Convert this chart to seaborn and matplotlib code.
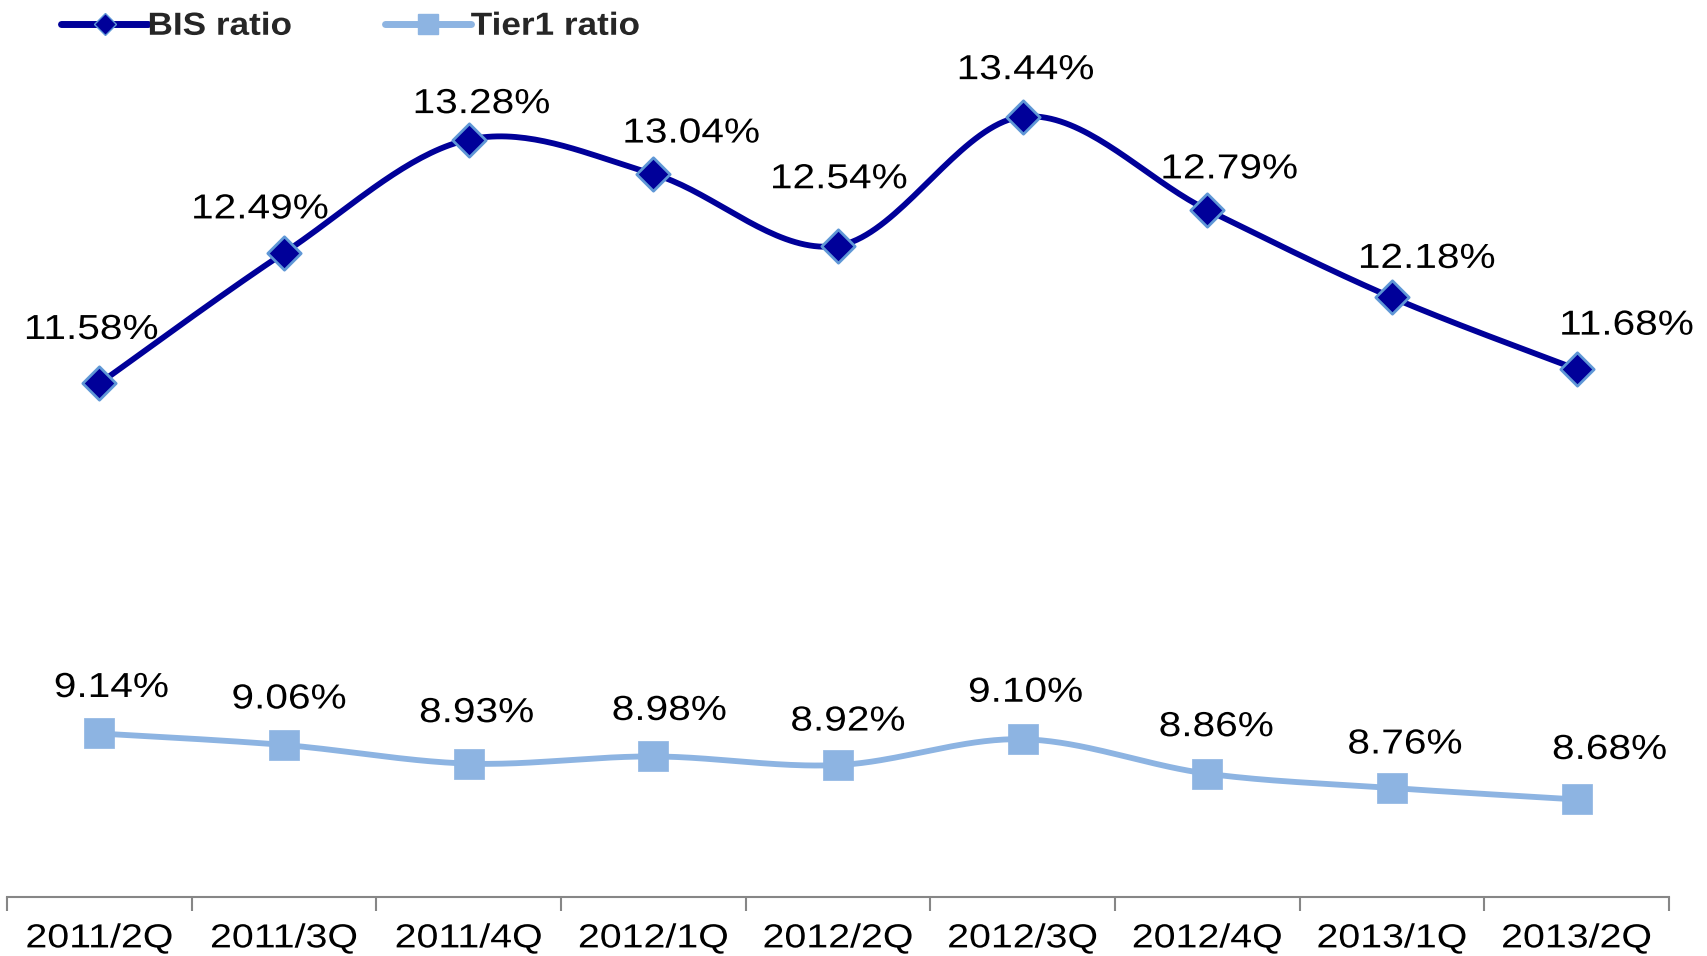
import numpy as np
import seaborn as sns
import matplotlib.pyplot as plt
from matplotlib.lines import Line2D
from matplotlib.patheffects import AbstractPathEffect
from matplotlib.transforms import Affine2D

sns.set_theme(style="white")
plt.rcParams['font.family'] = ['Liberation Sans', 'DejaVu Sans']

quarters = ["2011/2Q", "2011/3Q", "2011/4Q", "2012/1Q", "2012/2Q",
            "2012/3Q", "2012/4Q", "2013/1Q", "2013/2Q"]
bis_ratio = [11.58, 12.49, 13.28, 13.04, 12.54, 13.44, 12.79, 12.18, 11.68]
tier1_ratio = [9.14, 9.06, 8.93, 8.98, 8.92, 9.10, 8.86, 8.76, 8.68]

# label offsets in pixels (dx, dy) from each point
bis_offsets = [(-8, 54), (-24, 44), (13, 36), (38, 41), (1, 67),
               (3, 47), (22, 41), (35, 39), (50, 44)]
tier1_offsets = [(12, 46), (5, 46), (8, 51), (16, 46), (10, 44),
                 (3, 47), (9, 47), (13, 44), (33, 50)]

BIS_COLOR = "#000099"
BIS_EDGE = "#5f97d6"
TIER_COLOR = "#8db4e2"


class Stretch(AbstractPathEffect):
    """Widen glyphs horizontally (the source text is drawn a bit wide)."""

    def __init__(self, sx, anchor="center"):
        super().__init__()
        self.sx = sx
        self.anchor = anchor

    def draw_path(self, renderer, gc, tpath, affine, rgbFace=None):
        ext = tpath.get_extents()
        cx = (ext.x0 + ext.x1) / 2 if self.anchor == "center" else ext.x0
        pre = Affine2D().translate(-cx, 0).scale(self.sx, 1).translate(cx, 0)
        renderer.draw_path(gc, tpath, pre + affine, rgbFace)


def smooth(y, n=40):
    # Excel-style smoothed line (cubic Bezier, 1/6 tangents)
    pts = np.column_stack([np.arange(len(y)), y]).astype(float)
    ext = np.vstack([pts[0], pts, pts[-1]])
    t = np.linspace(0, 1, n)[:, None]
    out = []
    for i in range(len(pts) - 1):
        p0, p3 = pts[i], pts[i + 1]
        p1 = p0 + (ext[i + 2] - ext[i]) / 6
        p2 = p3 - (ext[i + 3] - ext[i + 1]) / 6
        seg = ((1 - t) ** 3) * p0 + 3 * ((1 - t) ** 2) * t * p1 \
            + 3 * (1 - t) * t ** 2 * p2 + t ** 3 * p3
        out.append(seg if i == 0 else seg[1:])
    return np.vstack(out)


fig = plt.figure(figsize=(17.08, 9.56), dpi=100)
ax = fig.add_axes([0.0041, 0.0617, 0.973, 0.9003])

x = np.arange(len(quarters))
for vals, color in [(bis_ratio, BIS_COLOR), (tier1_ratio, TIER_COLOR)]:
    c = smooth(vals)
    sns.lineplot(x=c[:, 0], y=c[:, 1], sort=False, ax=ax, color=color,
                 linewidth=4.2, zorder=2)

sns.scatterplot(x=x, y=bis_ratio, ax=ax, marker="D", s=17 ** 2,
                color=BIS_COLOR, edgecolor=BIS_EDGE, linewidth=2, zorder=3)
sns.scatterplot(x=x, y=tier1_ratio, ax=ax, marker="s", s=22 ** 2,
                color=TIER_COLOR, edgecolor=TIER_COLOR, linewidth=0.5,
                zorder=3)

for vals, offs in [(bis_ratio, bis_offsets), (tier1_ratio, tier1_offsets)]:
    for xi, v, (dx, dy) in zip(x, vals, offs):
        ax.annotate(f"{v:.2f}%", (xi, v), xytext=(dx, dy),
                    textcoords="offset pixels", ha="center", va="center",
                    fontsize=25, color="black",
                    path_effects=[Stretch(1.17)])

ax.set_xlim(-0.5, len(quarters) - 0.5)
ax.set_ylim(8, 14)
ax.set_yticks([])
ax.set_xticks(np.arange(-0.5, len(quarters)), labels=[])
ax.set_xticks(x, labels=quarters, minor=True)
ax.tick_params(axis="x", which="major", length=10, width=1.5,
               color="#868686", direction="out", bottom=True)
ax.tick_params(axis="x", which="minor", length=0, pad=19, labelsize=24,
               labelcolor="black")
plt.setp(ax.get_xticklabels(minor=True), path_effects=[Stretch(1.18)])
for side in ["left", "right", "top"]:
    ax.spines[side].set_visible(False)
ax.spines["bottom"].set_color("#868686")
ax.spines["bottom"].set_linewidth(1.5)
ax.set_xlabel("")
ax.set_ylabel("")

handles = [
    Line2D([], [], color=BIS_COLOR, lw=5, marker="D", markersize=11,
           markerfacecolor=BIS_COLOR, markeredgecolor=BIS_EDGE,
           markeredgewidth=1),
    Line2D([], [], color=TIER_COLOR, lw=5, marker="s", markersize=15,
           markerfacecolor=TIER_COLOR, markeredgecolor=TIER_COLOR),
]
leg = fig.legend(handles, ["BIS ratio", "Tier1 ratio"], loc="center left",
                 bbox_to_anchor=(0.036, 0.972), ncol=2, frameon=False,
                 prop={"weight": "bold", "size": 23}, handlelength=2.7,
                 handletextpad=0.0, columnspacing=3.3, borderpad=0,
                 borderaxespad=0)
for txt in leg.get_texts():
    txt.set_path_effects([Stretch(1.1, anchor="left")])

fig.savefig("out.png", dpi=100)
